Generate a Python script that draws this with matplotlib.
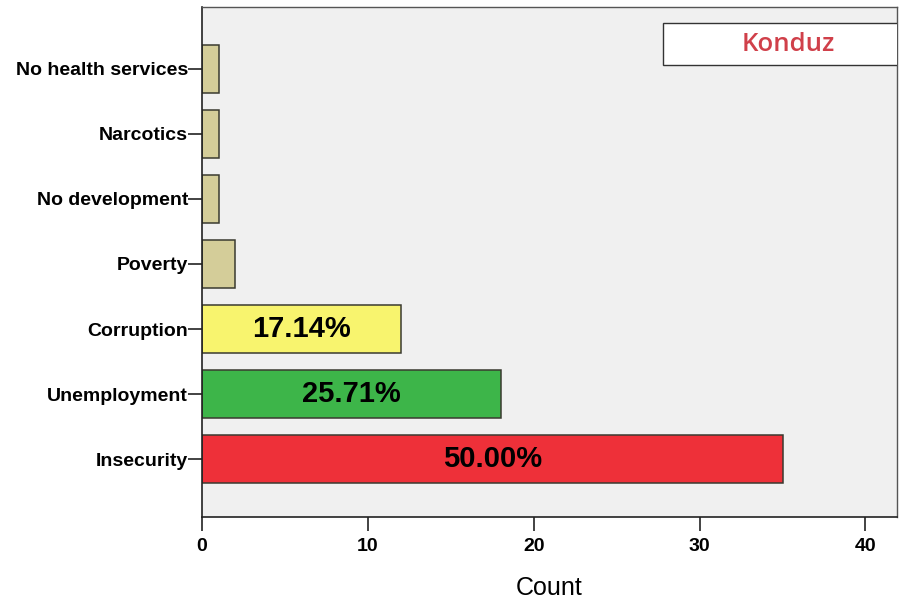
import matplotlib.pyplot as plt
from matplotlib.patches import Rectangle

# data, bottom to top
categories = ["Insecurity", "Unemployment", "Corruption", "Poverty",
              "No development", "Narcotics", "No health services"]
counts = [35, 18, 12, 2, 1, 1, 1]
pct_labels = ["50.00%", "25.71%", "17.14%", "", "", "", ""]
colors = ["#EE3039", "#3DB549", "#F8F46E", "#D4CD99", "#D4CD99", "#D4CD99", "#D4CD99"]

plt.rcParams['font.family'] = ['Liberation Sans', 'DejaVu Sans']

fig = plt.figure(figsize=(9.03, 5.98), dpi=100)
ax = fig.add_axes([202/903, 1 - 517/598, 695/903, 510/598])
ax.set_facecolor("#F0F0F0")

ypos = list(range(len(categories)))
ax.barh(ypos, counts, height=0.73, color=colors, edgecolor="#3a3a30", linewidth=1.1)

for y, c, lab in zip(ypos, counts, pct_labels):
    if lab:
        ax.text(c / 2, y, lab, ha="center", va="center", fontsize=21, fontweight="bold")

ax.set_xlim(0, 41.9)
ax.set_ylim(-0.89, 6.95)
ax.set_xticks([0, 10, 20, 30, 40])
ax.set_yticks(ypos)
ax.set_yticklabels(categories)
ax.tick_params(axis="both", length=10, width=1.2, color="#222222")
ax.tick_params(axis="x", labelsize=14, pad=5)
ax.tick_params(axis="y", labelsize=14, pad=0)
for lbl in ax.get_xticklabels() + ax.get_yticklabels():
    lbl.set_fontweight("bold")
ax.set_xlabel("Count", fontsize=18, labelpad=15)

for side in ["left", "bottom"]:
    ax.spines[side].set_color("#222222")
    ax.spines[side].set_linewidth(1.2)
for side in ["top", "right"]:
    ax.spines[side].set_color("#555555")
    ax.spines[side].set_linewidth(1.0)

# region label box
ax.add_patch(Rectangle((0.663, 0.886), 0.4, 0.083, transform=ax.transAxes,
                       facecolor="white", edgecolor="#333333", linewidth=1, zorder=5))
ax.text(0.843, 0.927, "Konduz", transform=ax.transAxes, ha="center", va="center",
        fontsize=18.5, fontweight="semibold", family=["Open Sans", "DejaVu Sans"],
        color="#D0404A", zorder=6)

fig.savefig("out.png", dpi=100)
